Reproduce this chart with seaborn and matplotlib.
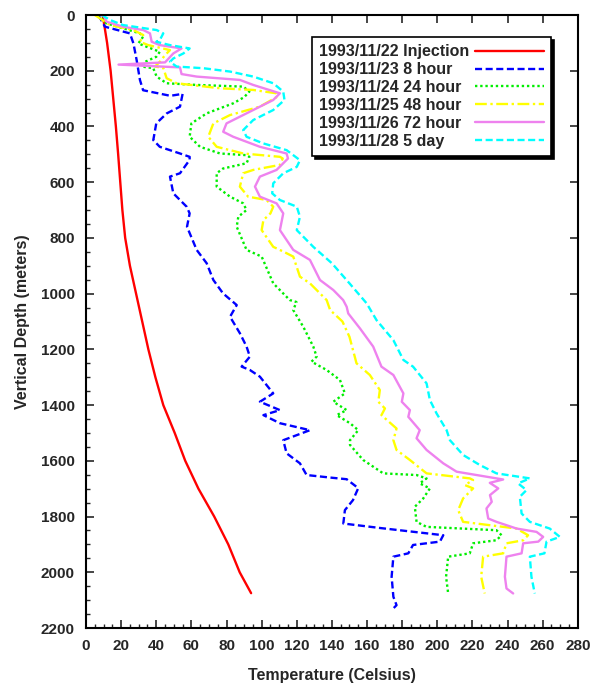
import seaborn as sns
import matplotlib.pyplot as plt
import pandas as pd
from matplotlib.ticker import MultipleLocator

# Temperature (Celsius) and vertical depth (meters) for each survey
inj_T = [9.5, 12, 14, 15.5, 17, 18.3, 19.5, 20.7, 22.3, 25, 28.5, 32, 35.5, 39.5, 44, 50.5, 56.5, 64, 73, 81, 87.5, 94]
inj_D = [0, 100, 200, 300, 400, 500, 600, 700, 800, 900, 1000, 1100, 1200, 1300, 1400, 1500, 1600, 1700, 1800, 1900, 2000, 2075]

h8_T = [7, 10.8, 25, 27, 28.8, 30.7, 32.5, 48, 55, 53.5, 46, 40, 38.3, 42, 53.5, 59, 59, 53.5, 47.8, 49.7, 57.3, 59, 57.5,
        63, 68.7, 72.5, 78, 85.8, 82, 87.6, 91.4, 93.3, 88.6, 93.3, 99, 106.6, 99, 110.4, 101, 110.4, 127.5, 112.3, 114.2,
        121.8, 125.6, 138.9, 148.4, 155, 152, 147.4, 146.5, 167.3, 203.4, 201.5, 186.2, 183.5, 175, 174, 175, 176.8, 174]
h8_D = [0, 42, 66, 102, 161, 233, 270, 290, 283, 329, 353, 389, 449, 473, 497, 509, 520, 568, 580, 640, 688, 712, 760,
        843, 891, 951, 999, 1041, 1083, 1142, 1190, 1226, 1262, 1274, 1298, 1358, 1388, 1418, 1436, 1465, 1490, 1526, 1573,
        1609, 1651, 1660, 1666, 1698, 1741, 1777, 1825, 1841, 1867, 1890, 1902, 1932, 1944, 2016, 2088, 2118, 2136]

h24_T = [6.5, 11.7, 30.7, 32.5, 29.8, 34.5, 42, 40, 33.6, 31.7, 38.3, 40.2, 45.9, 63, 89.5, 93, 90, 83.8, 68.7, 60, 59,
         64.9, 76.3, 91.4, 93, 91.4, 78, 74.4, 74.4, 82, 89.5, 91.4, 86.7, 85.8, 91.4, 100, 106.6, 116, 119.8, 118, 123.7,
         129.4, 131.3, 128.4, 137, 144.6, 147.4, 140.8, 148.4, 142.7, 150.3, 155, 150.3, 150.3, 157.8, 169.2, 188.2, 193.9,
         190, 195.8, 192, 187.2, 188.2, 193.9, 233.7, 236.6, 233.7, 220.4, 218.5, 206.2, 205, 206.2]
h24_D = [0, 30, 66, 78, 102, 114, 132, 150, 168, 185, 191, 221, 245, 251, 257, 275, 295, 317, 353, 389, 437,
         473, 497, 503, 509, 532, 551, 568, 616, 652, 676, 700, 724, 760, 843, 867, 963, 1023, 1030, 1059, 1119,
         1190, 1226, 1244, 1274, 1310, 1358, 1388, 1418, 1436, 1465, 1490, 1526, 1543, 1597, 1645, 1651, 1663,
         1681, 1699, 1735, 1765, 1819, 1837, 1849, 1867, 1885, 1896, 1932, 1944, 2016, 2076]

h48_T = [5, 13.7, 27, 32.6, 30.7, 35.4, 47.8, 45, 42, 39.3, 44, 45.9, 51.6, 76.3, 95.2, 108.5, 109, 99, 82, 72.5, 69.6,
         74.4, 89.5, 110.4, 112, 110.4, 95.2, 89.5, 87.6, 92.3, 102.8, 106.6, 105, 101, 100, 106.6, 112.3, 118, 121.8,
         127.5, 137, 139, 146, 150, 153, 154, 161.6, 167.3, 166.4, 170.2, 168.2, 176.8, 175, 176.8, 184.4, 193.9, 218.5,
         220.4, 215.7, 220.4, 214.7, 211.9, 214.7, 245.1, 251.7, 249, 239.4, 237.5, 226.1, 225, 227]
h48_D = [0, 36, 54, 72, 96, 108, 126, 144, 168, 185, 190, 227, 245, 263, 269, 281, 293, 329, 359, 389, 437,
         473, 497, 509, 515, 538, 556, 568, 616, 652, 664, 688, 712, 736, 772, 832, 849, 867, 939,
         963, 1023, 1059, 1100, 1155, 1226, 1250, 1292, 1346, 1388, 1412, 1436, 1484, 1526, 1561, 1597, 1645, 1663,
         1669, 1687, 1699, 1735, 1777, 1819, 1843, 1867, 1885, 1896, 1932, 1944, 2016, 2076]

h72_T = [9.9, 11.7, 21, 32.6, 36.4, 37.4, 42, 54.4, 49.7, 45, 18.5, 53.5, 54.4, 63, 87.6, 95.2, 110.4, 106.6, 91.4, 80,
         78.1, 83.8, 99, 114.2, 115, 108.5, 99, 96.2, 99, 108.5, 112.3, 110.4, 118, 127.5, 133.2, 140.8, 146.4, 148.4,
         149.3, 156, 163.5, 168.2, 175, 180.7, 179.8, 184.4, 183.5, 190, 188.2, 193.9, 203.4, 211, 237.5, 229.9, 234.7,
         230, 231, 228, 229, 233.7, 245.1, 256.5, 260.3, 257.5, 248.9, 248, 239.4, 238.5, 239.4, 243.2]
h72_D = [0, 24, 42, 54, 66, 96, 108, 120, 138, 170, 178, 188, 212, 221, 233, 251, 281, 305, 353, 389,
         419, 437, 473, 497, 515, 556, 580, 616, 652, 676, 712, 772, 843, 879, 951, 987, 1023, 1047,
         1071, 1125, 1190, 1262, 1292, 1358, 1388, 1418, 1442, 1490, 1519, 1561, 1609, 1639, 1667, 1679, 1699,
         1723, 1747, 1771, 1807, 1819, 1843, 1855, 1873, 1890, 1896, 1932, 1944, 2016, 2058, 2076]

d5_T = [9, 13.7, 21, 40.2, 44, 42, 40, 47.8, 59, 55.4, 49.7, 47.8, 51.6, 66.8, 82, 95.2, 106.6, 112.3, 113, 106.6, 95.2,
        89.5, 91.4, 101, 114.2, 121.8, 120, 112.3, 106.6, 106, 110.4, 120, 121.8, 120, 129.4, 140, 150, 159.8, 165.4,
        175, 180.7, 186.2, 193.9, 195.8, 199.6, 205.3, 207.2, 214.7, 224.2, 233.7, 252.7, 246, 250.8, 247, 248, 252.7,
        264, 269.8, 262.2, 261, 252.7, 253.6, 255.5]
d5_D = [0, 18, 36, 54, 66, 90, 96, 108, 120, 138, 156, 168, 185, 191, 203, 221, 245, 275, 305, 341, 377,
        413, 437, 461, 485, 521, 545, 568, 604, 640, 664, 688, 724, 772, 832, 891, 963, 1035, 1095,
        1167, 1238, 1262, 1322, 1382, 1430, 1490, 1526, 1579, 1615, 1645, 1663, 1681, 1705, 1729, 1789, 1819,
        1843, 1873, 1890, 1932, 1944, 2016, 2076]

labels = ["1993/11/22 Injection", "1993/11/23 8 hour", "1993/11/24 24 hour",
          "1993/11/25 48 hour", "1993/11/26 72 hour", "1993/11/28 5 day"]

series = [(inj_T, inj_D), (h8_T, h8_D), (h24_T, h24_D), (h48_T, h48_D), (h72_T, h72_D), (d5_T, d5_D)]
colors = ["#ff0000", "#0000ff", "#00ee00", "#ffff00", "#ee82ee", "#00ffff"]
styles = ["-", (0, (3, 1.5)), (0, (1, 1.2)), (0, (5, 1.5, 1, 1.5)), "-", (0, (3, 1.5))]

sns.set_style("ticks")
plt.rcParams["font.family"] = ["Liberation Sans", "DejaVu Sans"]
plt.rcParams["font.weight"] = "bold"

fig = plt.figure(figsize=(5.92, 6.85), dpi=100)
ax = fig.add_axes([0.1453, 0.0832, 0.8307, 0.8949])

for (t, d), lab, c, ls in zip(series, labels, colors, styles):
    df = pd.DataFrame({"temp": t, "depth": d})
    sns.lineplot(data=df, x="temp", y="depth", sort=False, estimator=None,
                 color=c, linestyle=ls, linewidth=1.7, label=lab, ax=ax)

ax.set_xlim(0, 280)
ax.set_ylim(2200, 0)
ax.xaxis.set_major_locator(MultipleLocator(20))
ax.xaxis.set_minor_locator(MultipleLocator(5))
ax.yaxis.set_major_locator(MultipleLocator(200))
ax.yaxis.set_minor_locator(MultipleLocator(50))
ax.tick_params(which="both", direction="in", top=True, right=True, labelsize=11)
ax.tick_params(which="major", length=6, width=1.2, pad=8)
ax.tick_params(which="minor", length=3, width=1, top=False, right=False)
for lab in ax.get_xticklabels() + ax.get_yticklabels():
    lab.set_fontweight("bold")
for s in ax.spines.values():
    s.set_linewidth(1.5)
    s.set_color("black")

ax.set_xlabel("Temperature (Celsius)", fontsize=11.5, fontweight="bold", labelpad=11)
ax.set_ylabel("Vertical Depth (meters)", fontsize=11.5, fontweight="bold", labelpad=8)

leg_fs = 11.5
leg = ax.legend(loc="upper right", bbox_to_anchor=(0.945, 0.964), borderaxespad=0,
                markerfirst=False, handlelength=4.3, handletextpad=0.35, fontsize=leg_fs,
                frameon=True, fancybox=False, shadow={"color": "black", "alpha": 1},
                labelspacing=0.18, borderpad=0.45)
leg.get_frame().set_edgecolor("black")
leg.get_frame().set_linewidth(1.2)
for txt in leg.get_texts():
    txt.set_fontweight("bold")

# left-align the legend labels while keeping the line samples in one column
fig.canvas.draw()
renderer = fig.canvas.get_renderer()
maxw = max(t.get_window_extent(renderer).width for t in leg.get_texts())
px = leg_fs * fig.dpi / 72
for col in leg._legend_handle_box.get_children():
    for item in col.get_children():
        item.mode = "expand"
        item.width = maxw + px * (4.3 + 0.35)
        item.sep = 0

fig.savefig("out.png", dpi=100)
